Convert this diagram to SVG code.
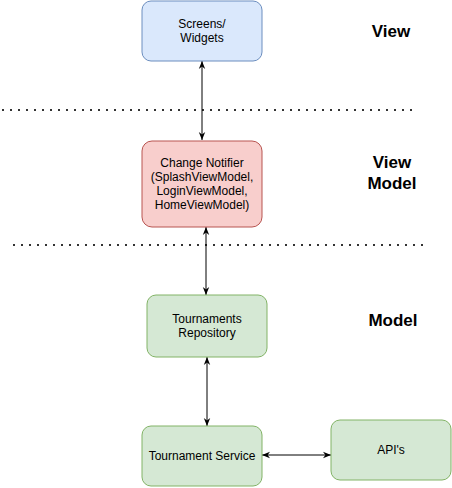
<svg xmlns="http://www.w3.org/2000/svg" width="452" height="488" viewBox="0 0 452 488">
<style>
.node text{font-family:"Liberation Sans",Arial,sans-serif;font-size:12px;fill:#000;text-anchor:middle}
.lbl{font-family:"Liberation Sans",Arial,sans-serif;font-size:17px;font-weight:bold;fill:#000;text-anchor:middle}
.blue{fill:#dae8fc;stroke:#6c8ebf;stroke-width:1}
.red{fill:#f8cecc;stroke:#b85450;stroke-width:1}
.green{fill:#d5e8d4;stroke:#82b366;stroke-width:1}
.conn line{stroke:#000;stroke-width:1;fill:none;marker-start:url(#arr);marker-end:url(#arr)}
.sep{stroke:#333;stroke-width:2;stroke-dasharray:2 6;fill:none}
</style>
<defs>
<marker id="arr" viewBox="0 0 10 10" refX="10" refY="5" markerWidth="8" markerHeight="8" markerUnits="userSpaceOnUse" orient="auto-start-reverse">
<path d="M0,1 L10,5 L0,9 L3,5 Z" fill="#000"/>
</marker>
</defs>
<rect width="452" height="488" fill="#fff"/>
<g id="separators">
<line class="sep" x1="2" y1="110" x2="412" y2="110"/>
<line class="sep" x1="13" y1="245" x2="425" y2="245"/>
</g>
<g id="labels">
<text class="lbl" x="391" y="37">View</text>
<text class="lbl" x="392" y="168">View</text>
<text class="lbl" x="392" y="189">Model</text>
<text class="lbl" x="393" y="326">Model</text>
</g>
<g class="conn" id="connectors">
<line x1="202" y1="61" x2="202" y2="140"/>
<line x1="206" y1="227" x2="206" y2="295"/>
<line x1="207" y1="357" x2="207" y2="426"/>
<line x1="262" y1="455" x2="331" y2="455"/>
</g>
<g class="node" id="screens">
<rect class="blue" x="142" y="1" width="120" height="60" rx="9"/>
<text x="202" y="28">Screens/</text>
<text x="202" y="42">Widgets</text>
</g>
<g class="node" id="changenotifier">
<rect class="red" x="142" y="141" width="120" height="86" rx="10"/>
<text x="202" y="167">Change Notifier</text>
<text x="202" y="181">(SplashViewModel,</text>
<text x="202" y="195">LoginViewModel,</text>
<text x="202" y="209">HomeViewModel)</text>
</g>
<g class="node" id="repository">
<rect class="green" x="147" y="295" width="120" height="62" rx="9"/>
<text x="207" y="323">Tournaments</text>
<text x="207" y="337">Repository</text>
</g>
<g class="node" id="service">
<rect class="green" x="142" y="426" width="120" height="60" rx="9"/>
<text x="202" y="460">Tournament Service</text>
</g>
<g class="node" id="apis">
<rect class="green" x="331" y="420" width="120" height="60" rx="9"/>
<text x="391" y="454">API's</text>
</g>
</svg>
